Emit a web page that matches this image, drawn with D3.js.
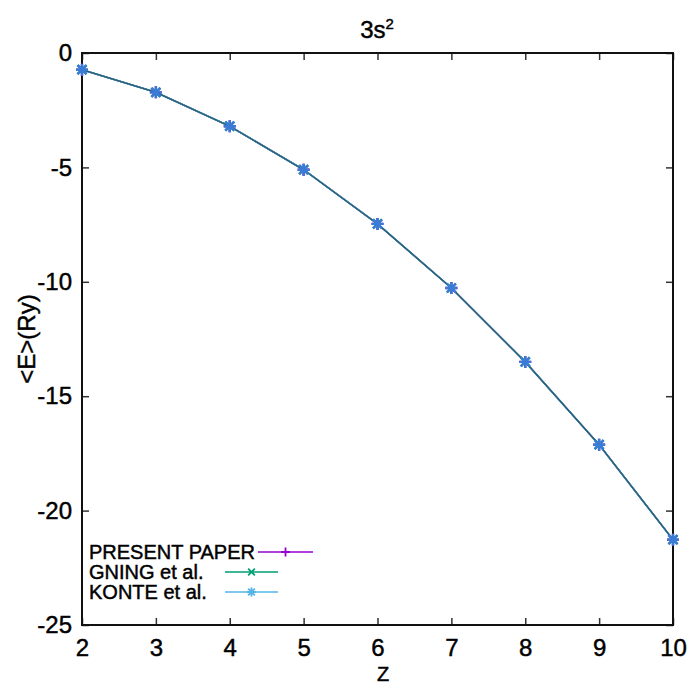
<!DOCTYPE html>
<html>
<head>
<meta charset="utf-8">
<title>3s2</title>
<script src="https://d3js.org/d3.v7.min.js"></script>
<style>
  body { margin: 0; background: #fff; }
  svg text { font-family: "Liberation Sans", Arial, sans-serif; fill: #000; stroke: #000; stroke-width: 0.45px; }
</style>
</head>
<body>
<svg id="chart" width="692" height="685"></svg>
<script>
// data
var zValues = [2, 3, 4, 5, 6, 7, 8, 9, 10];
var presentPaper = [-0.73, -1.72, -3.20, -5.10, -7.47, -10.27, -13.50, -17.12, -21.27];
var gning = [-0.73, -1.72, -3.20, -5.10, -7.47, -10.27, -13.50, -17.12, -21.27];
var konte = [-0.73, -1.72, -3.20, -5.10, -7.47, -10.27, -13.50, -17.12, -21.27];
var xTicks = [2, 3, 4, 5, 6, 7, 8, 9, 10];
var yTicks = [0, -5, -10, -15, -20, -25];
var seriesNames = ["PRESENT PAPER", "GNING et al.", "KONTE et al."];

var width = 692, height = 685;
var margin = { top: 53, right: 19, bottom: 60, left: 82 };

var svg = d3.select("#chart");

var x = d3.scaleLinear().domain([2, 10]).range([margin.left, width - margin.right]);
var y = d3.scaleLinear().domain([-25, 0]).range([height - margin.bottom, margin.top]);

// series
var series = [
  { name: seriesNames[0], values: presentPaper, color: "#9400d3", mark: "plus", w: 1.6 },
  { name: seriesNames[1], values: gning, color: "#009e73", mark: "cross", w: 1.6 },
  { name: seriesNames[2], values: konte, color: "#56b4e9", mark: "star", w: 1.4 }
];

// axes - ticks inward on all sides
var tickLen = 7;
var fmt = function (d) { return String(d); };
svg.append("g")
  .attr("transform", "translate(0," + y(-25) + ")")
  .call(d3.axisBottom(x).tickValues(xTicks).tickSize(-tickLen).tickPadding(14).tickFormat(fmt))
  .call(function (g) { g.select(".domain").remove(); });
svg.append("g")
  .attr("transform", "translate(0," + y(0) + ")")
  .call(d3.axisTop(x).tickValues(xTicks).tickSize(-tickLen).tickFormat(""))
  .call(function (g) { g.select(".domain").remove(); });
svg.append("g")
  .attr("transform", "translate(" + x(2) + ",0)")
  .call(d3.axisLeft(y).tickValues(yTicks).tickSize(-tickLen).tickPadding(10).tickFormat(fmt))
  .call(function (g) { g.select(".domain").remove(); });
svg.append("g")
  .attr("transform", "translate(" + x(10) + ",0)")
  .call(d3.axisRight(y).tickValues(yTicks).tickSize(-tickLen).tickFormat(""))
  .call(function (g) { g.select(".domain").remove(); });

svg.selectAll(".tick line").attr("stroke", "#333").attr("stroke-width", 1.5);
svg.selectAll(".tick text").style("font-size", "24px").attr("fill", "#000");

// frame
svg.append("rect")
  .attr("x", x(2)).attr("y", y(0))
  .attr("width", x(10) - x(2)).attr("height", y(-25) - y(0))
  .attr("fill", "none").attr("stroke", "#111").attr("stroke-width", 2);

function markPath(type, s) {
  var h = s / 2;
  var p = "";
  if (type === "plus" || type === "star") p += "M" + (-h) + ",0H" + h + "M0," + (-h) + "V" + h;
  if (type === "cross" || type === "star") {
    var d = h * 0.75;
    p += "M" + (-d) + "," + (-d) + "L" + d + "," + d + "M" + (-d) + "," + d + "L" + d + "," + (-d);
  }
  return p;
}

var line = d3.line()
  .x(function (d, i) { return x(zValues[i]); })
  .y(function (d) { return y(d); });

series.forEach(function (s) {
  svg.append("path")
    .datum(s.values)
    .attr("fill", "none")
    .attr("stroke", s.color)
    .attr("stroke-width", s.w)
    .attr("d", line);
});
// darker core where the three curves overlap
svg.append("path")
  .datum(konte)
  .attr("fill", "none")
  .attr("stroke", "#2b5c72")
  .attr("stroke-width", 1.3)
  .attr("d", line);

series.forEach(function (s) {
  svg.append("g").selectAll("path")
    .data(s.values)
    .enter().append("path")
    .attr("transform", function (d, i) { return "translate(" + x(zValues[i]) + "," + y(d) + ")"; })
    .attr("d", markPath(s.mark, 12))
    .attr("stroke", s.mark === "star" ? "#3a7bd5" : s.color)
    .attr("stroke-width", 2.4)
    .attr("fill", "none");
});

// legend
var legendRows = [
  { y: 552, x1: 258, x2: 313 },
  { y: 572, x1: 225, x2: 278 },
  { y: 592, x1: 225, x2: 278 }
];
series.forEach(function (s, i) {
  var r = legendRows[i];
  svg.append("text")
    .attr("x", 89).attr("y", r.y).attr("dy", "0.36em")
    .style("font-size", "20px")
    .text(s.name);
  svg.append("line")
    .attr("x1", r.x1).attr("x2", r.x2).attr("y1", r.y).attr("y2", r.y)
    .attr("stroke", s.color).attr("stroke-width", 1.6);
  svg.append("path")
    .attr("transform", "translate(" + ((r.x1 + r.x2) / 2) + "," + r.y + ")")
    .attr("d", markPath(s.mark, 9))
    .attr("stroke", s.color).attr("stroke-width", 1.8).attr("fill", "none");
});

// title
var title = svg.append("text")
  .attr("x", 377).attr("y", 38)
  .attr("text-anchor", "middle")
  .style("font-size", "24px");
title.append("tspan").text("3s");
title.append("tspan").attr("dy", -9).style("font-size", "15px").text("2");

// axis labels
svg.append("text")
  .attr("x", 383).attr("y", 680.5)
  .attr("text-anchor", "middle")
  .style("font-size", "20px")
  .text("Z");
svg.append("text")
  .attr("transform", "translate(35," + ((y(0) + y(-25)) / 2) + ") rotate(-90)")
  .attr("text-anchor", "middle")
  .style("font-size", "24px")
  .text("<E>(Ry)");
</script>
</body>
</html>
